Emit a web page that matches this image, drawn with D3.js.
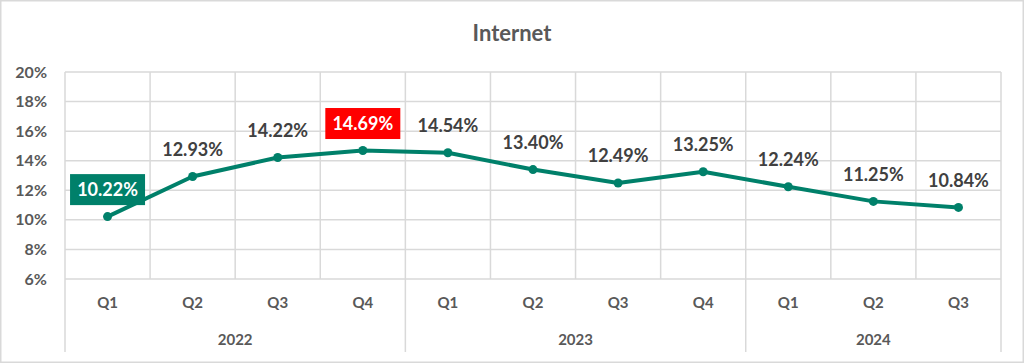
<!DOCTYPE html>
<html><head><meta charset="utf-8">
<script src="https://cdn.jsdelivr.net/npm/d3@7"></script>
<style>html,body{margin:0;padding:0;background:#fff;}svg{display:block;}</style>
</head><body>
<svg id="c" width="1024" height="363"></svg>
<script>
const quarters = ["Q1","Q2","Q3","Q4","Q1","Q2","Q3","Q4","Q1","Q2","Q3"];
const years = ["2022","2023","2024"];
const yearSpans = [4,4,3];
const values = [10.22,12.93,14.22,14.69,14.54,13.40,12.49,13.25,12.24,11.25,10.84];
const yTicks = [6,8,10,12,14,16,18,20];
const title = "Internet";
const highlightMin = 0, highlightMax = 3;

(function(){
const svg = d3.select("#c");
const W = 1024, H = 363;
const font = "Lato, 'Open Sans', sans-serif";
const pL = 65, pR = 1001, pT = 72, pB = 279;
const green = "#00806a", gridC = "#d9d9d9", textC = "#595959", labelC = "#404040";

svg.append("rect").attr("x",0.75).attr("y",0.75).attr("width",W-1.5).attr("height",H-1.5)
  .attr("fill","#fff").attr("stroke","#d9d9d9").attr("stroke-width",1.5);

svg.append("text").attr("x",512).attr("y",41).attr("text-anchor","middle")
  .attr("font-family",font).attr("font-weight","bold").attr("font-size",22).attr("fill",textC).text(title);

const idx = d3.range(values.length);
const x = d3.scaleBand().domain(idx).range([pL,pR]).padding(0);
const y = d3.scaleLinear().domain([6,20]).range([pB,pT]);

const g = svg.append("g");
g.selectAll(".hg").data(yTicks).join("line")
  .attr("x1",pL).attr("x2",pR).attr("y1",d=>y(d)).attr("y2",d=>y(d))
  .attr("stroke",gridC).attr("stroke-width",1.5);
const bounds = d3.range(values.length+1).map(i => pL + i*x.bandwidth());
g.selectAll(".vg").data(bounds).join("line")
  .attr("x1",d=>d).attr("x2",d=>d).attr("y1",pT).attr("y2",pB)
  .attr("stroke",gridC).attr("stroke-width",1.5);
let cum = 0;
const yearBounds = [0];
yearSpans.forEach(s => { cum += s; yearBounds.push(cum); });
g.selectAll(".ys").data(yearBounds).join("line")
  .attr("x1",d=>pL+d*x.bandwidth()).attr("x2",d=>pL+d*x.bandwidth())
  .attr("y1",pB).attr("y2",352)
  .attr("stroke",gridC).attr("stroke-width",1.5);

g.selectAll(".yl").data(yTicks).join("text")
  .attr("x",47).attr("y",d=>y(d)).attr("dy","0.35em").attr("text-anchor","end")
  .attr("font-family",font).attr("font-weight","bold").attr("font-size",16).attr("fill",textC)
  .text(d=>d+"%");

g.selectAll(".ql").data(quarters).join("text")
  .attr("x",(d,i)=>x(i)+x.bandwidth()/2).attr("y",303).attr("dy","0.35em").attr("text-anchor","middle")
  .attr("font-family",font).attr("font-weight","bold").attr("font-size",15).attr("fill",textC)
  .text(d=>d);
g.selectAll(".yr").data(years).join("text")
  .attr("x",(d,i)=>pL + (yearBounds[i]+yearBounds[i+1])/2*x.bandwidth()).attr("y",340).attr("dy","0.35em")
  .attr("text-anchor","middle")
  .attr("font-family",font).attr("font-weight","bold").attr("font-size",15).attr("fill",textC)
  .text(d=>d);

const line = d3.line().x((d,i)=>x(i)+x.bandwidth()/2).y(d=>y(d));
g.append("path").datum(values).attr("d",line).attr("fill","none")
  .attr("stroke",green).attr("stroke-width",4).attr("stroke-linejoin","round");
g.selectAll(".pt").data(values).join("circle")
  .attr("cx",(d,i)=>x(i)+x.bandwidth()/2).attr("cy",d=>y(d)).attr("r",4.5).attr("fill",green);

const fmt = d => d.toFixed(2)+"%";
values.forEach((v,i) => {
  const cx = x(i)+x.bandwidth()/2, cy = y(v)-27;
  let bg = null, fc = labelC;
  if (i === highlightMin) { bg = green; fc = "#fff"; }
  if (i === highlightMax) { bg = "#ff0000"; fc = "#fff"; }
  if (bg) {
    g.append("rect").attr("x",cx-37.5).attr("y",cy-15.5).attr("width",75).attr("height",31).attr("fill",bg);
  }
  g.append("text").attr("x",cx).attr("y",cy).attr("dy","0.35em").attr("text-anchor","middle")
    .attr("font-family",font).attr("font-weight","bold").attr("font-size",18).attr("fill",fc).text(fmt(v));
});
})();
</script>
</body></html>
